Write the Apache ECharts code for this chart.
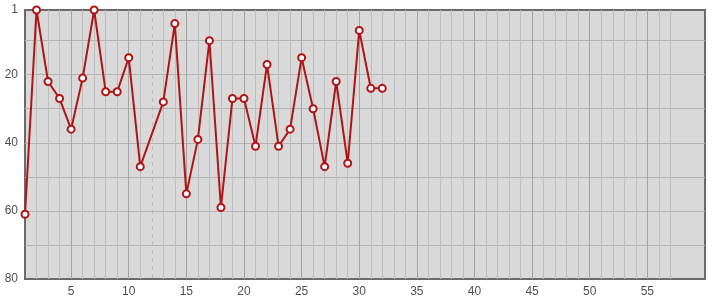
<!DOCTYPE html>
<html>
<head>
<meta charset="utf-8">
<script src="https://cdn.jsdelivr.net/npm/echarts@6/dist/echarts.min.js"></script>
<style>
html,body{margin:0;padding:0;background:#fff;}
#c{width:715px;height:300px;}
</style>
</head>
<body>
<div id="c"></div>
<script>
// Data
const xCategories = Array.from({length: 60}, (_, i) => String(i + 1));
const rankValues = [61, 1, 22, 27, 36, 21, 1, 25, 25, 15, 47, null, 28, 5, 55, 39, 10, 59, 27, 27, 41, 17, 41, 36, 15, 30, 47, 22, 46, 7, 24, 24];
const yTickLabels = [1, 20, 40, 60, 80];
const yGridValues = [10, 20, 30, 40, 50, 60, 70];
const markedX = 12;

const chart = echarts.init(document.getElementById('c'), null, {renderer: 'canvas'});
const labelFont = {color: '#505050', fontFamily: 'Liberation Sans, Arial, sans-serif', fontSize: 12};

function gridAxis(filter, lineStyle) {
  return {
    type: 'category', data: xCategories, boundaryGap: false, position: 'bottom',
    axisLine: {show: false}, axisTick: {show: false}, axisLabel: {show: false},
    splitLine: {show: true, interval: (i, v) => filter(+v), lineStyle: lineStyle}
  };
}

chart.setOption({
  animation: false,
  grid: {left: 25, right: 10, top: 10, bottom: 21, show: true, backgroundColor: '#d9d9d9', borderColor: '#6a6a6a', borderWidth: 2},
  xAxis: [
    {
      type: 'category', data: xCategories, boundaryGap: false, position: 'bottom',
      axisLine: {show: false}, axisTick: {show: false},
      axisLabel: Object.assign({margin: 7, interval: (i, v) => (+v) % 5 === 0 && +v < 60}, labelFont),
      splitLine: {show: true, interval: (i, v) => { const n = +v; return n > 1 && n % 5 !== 0 && n !== markedX && n <= 57; }, lineStyle: {color: '#bdbdbd', width: 1}}
    },
    gridAxis(n => n % 5 === 0 && n < 60, {color: '#a3a3a3', width: 1}),
    gridAxis(n => n === markedX, {color: '#bcbcbc', width: 1, type: [4, 4]})
  ],
  yAxis: {
    type: 'value', inverse: true, min: 1, max: 80,
    axisLine: {show: false},
    axisTick: {show: false, customValues: yGridValues},
    axisLabel: Object.assign({margin: 7, customValues: yTickLabels}, labelFont),
    splitLine: {show: true, lineStyle: {color: '#b3b3b3', width: 1}}
  },
  series: [{
    type: 'line', xAxisIndex: 0, data: rankValues, connectNulls: true,
    symbol: 'emptyCircle', symbolSize: 7,
    lineStyle: {color: '#b01414', width: 2},
    itemStyle: {color: '#b01414', borderWidth: 2}
  }]
});
</script>
</body>
</html>
